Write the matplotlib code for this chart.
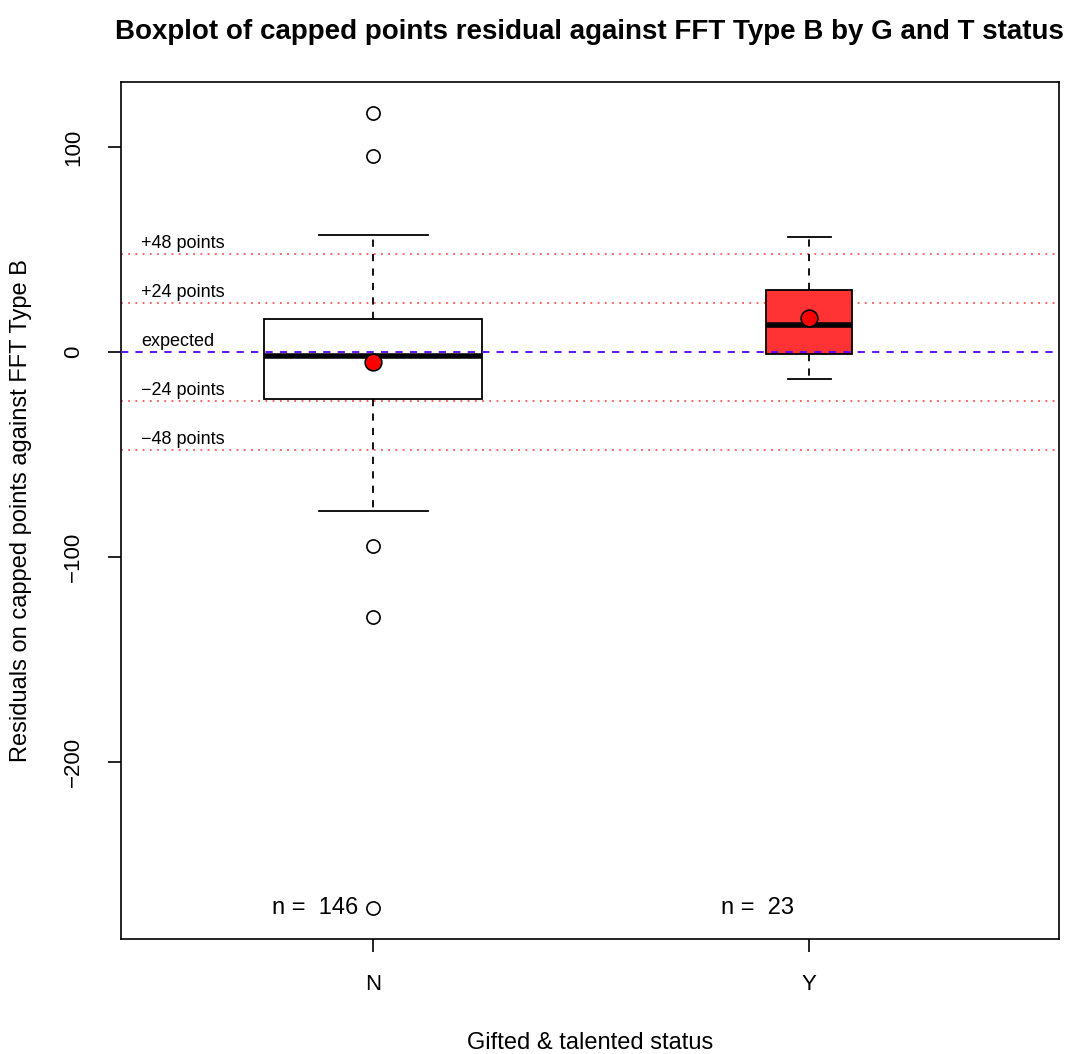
import matplotlib.pyplot as plt
import numpy as np

plt.rcParams['font.family'] = ['Liberation Sans', 'DejaVu Sans']

# data
groups = ['N', 'Y']
counts = [146, 23]
whislo = [-77.6, -13.2]
q1 = [-22.9, -1.0]
med = [-2.0, 13.2]
q3 = [16.1, 30.2]
whishi = [57.1, 56.1]
means = [-4.9, 16.6]
outliers = [[116.6, 95.6, -94.6, -129.3, -271.2], []]
box_colors = ['white', '#ff3333']

ref_lines = [48, 24, -24, -48]
ref_labels = ['+48 points', '+24 points', '\u221224 points', '\u221248 points']

pos = np.arange(1, len(groups) + 1)
widths = 0.5 * np.sqrt(np.array(counts) / max(counts))

fig = plt.figure(figsize=(10.72, 10.54), dpi=100)
ax = fig.add_axes([0.1129, 0.1091, 0.875, 0.8131])

stats = []
for i in range(len(groups)):
    stats.append(dict(whislo=whislo[i], q1=q1[i], med=med[i], q3=q3[i],
                      whishi=whishi[i], fliers=outliers[i]))

bp = ax.bxp(stats, positions=pos, widths=widths, capwidths=widths / 2,
            patch_artist=True, showfliers=True,
            boxprops=dict(edgecolor='black', linewidth=1.3),
            medianprops=dict(color='black', linewidth=4, solid_capstyle='butt'),
            whiskerprops=dict(color='black', linewidth=1.3, linestyle=(0, (4, 4))),
            capprops=dict(color='black', linewidth=1.3),
            flierprops=dict(marker='o', markerfacecolor='white', markeredgecolor='black',
                            markersize=9.5, markeredgewidth=1.2),
            zorder=3)
for patch, c in zip(bp['boxes'], box_colors):
    patch.set_facecolor(c)

ax.plot(pos, means, 'o', markerfacecolor='red', markeredgecolor='black',
        markersize=12, markeredgewidth=1.2, zorder=5)

ax.set_xlim(0.422, 2.573)
ax.set_ylim(-286.5, 131.8)

for y, lab in zip(ref_lines, ref_labels):
    ax.axhline(y, color='#ff5555', linestyle=(0, (1, 3)), linewidth=1.3, zorder=1)
    ax.text(0.468, y + 1, lab, fontsize=13, ha='left', va='bottom')
ax.axhline(0, color='#5500ff', linestyle=(0, (4, 4)), linewidth=1.3, zorder=4)
ax.text(0.468, 1, 'expected', fontsize=13, ha='left', va='bottom')

for p, n in zip(pos, counts):
    ax.text(p - 0.034, min(outliers[0]), 'n =  %d' % n, fontsize=17,
            ha='right', va='center')

ax.set_yticks([-200, -100, 0, 100])
ax.set_yticklabels(['\u2212200', '\u2212100', '0', '100'], rotation=90, va='center')
ax.set_xticks(pos)
ax.set_xticklabels(groups)
ax.tick_params(axis='both', labelsize=16, length=9.4, width=1.2)
ax.tick_params(axis='x', pad=16)
ax.tick_params(axis='y', pad=17)
for s in ax.spines.values():
    s.set_linewidth(1.2)

ax.set_xlabel('Gifted & talented status', fontsize=17, va='center')
ax.xaxis.set_label_coords(0.5, (939 - 1043) / 857)
ax.set_ylabel('Residuals on capped points against FFT Type B', fontsize=17, va='center')
ax.yaxis.set_label_coords((21 - 121) / 938, 0.5)
fig.text(0.55, 0.970, 'Boxplot of capped points residual against FFT Type B by G and T status',
         fontsize=20, fontweight='bold', ha='center', va='center')

plt.savefig('out.png')
